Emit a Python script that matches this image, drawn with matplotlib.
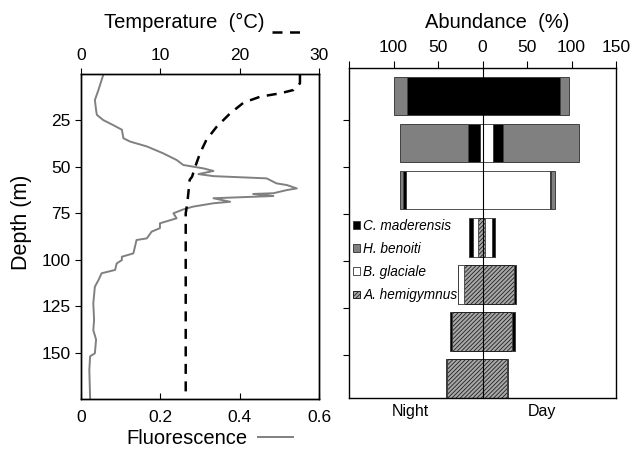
import numpy as np
import matplotlib
matplotlib.use("Agg")
import matplotlib.pyplot as plt
from matplotlib.patches import Patch
from matplotlib.lines import Line2D

plt.rcParams['font.family'] = ['Liberation Sans', 'DejaVu Sans']
plt.rcParams['hatch.linewidth'] = 0.6

# --- vertical profiles (depth in m) ---
fluo_depth = [0.5, 3.2, 8.6, 14, 19.4, 22, 24.8, 27.5, 30, 34.6, 36.4, 39, 42.7,
              46.3, 49, 49.9, 50.8, 52.2, 53.9, 55, 56.2, 58.9, 59.8, 61.6,
              62.5, 64.2, 64.6, 65.7, 66.9, 68.8, 69.6, 71.4, 72.9, 75, 77.7,
              80.4, 83, 84.9, 88.5, 89.4, 96.6, 98.4, 100.2, 102, 105.5, 107.3,
              111, 114.5, 123.5, 132.5, 137.9, 143, 150.4, 152, 159.4, 174.6]
fluo = [0.056, 0.052, 0.044, 0.035, 0.038, 0.040, 0.056, 0.081, 0.103, 0.107,
        0.124, 0.166, 0.207, 0.241, 0.258, 0.283, 0.308, 0.334, 0.296, 0.334,
        0.468, 0.493, 0.519, 0.544, 0.519, 0.485, 0.434, 0.485, 0.334, 0.376,
        0.334, 0.283, 0.258, 0.233, 0.241, 0.199, 0.199, 0.178, 0.166, 0.140,
        0.132, 0.103, 0.103, 0.090, 0.086, 0.052, 0.044, 0.035, 0.031, 0.033,
        0.031, 0.038, 0.035, 0.023, 0.021, 0.023]

temp_depth = [0.5, 5, 8.6, 10.4, 12.2, 15.4, 21.2, 28.4, 35.5, 42.7, 49.9,
              55.3, 57, 69.6, 75, 111, 174.6]
temp = [27.6, 27.6, 26.8, 25.1, 22.6, 20.5, 18.8, 17.1, 15.8, 15.0, 14.4,
        14.0, 13.7, 13.4, 13.2, 13.2, 13.2]

# --- abundance (%) per depth layer, night / day ---
layer_mid = [12.5, 37.5, 62.5, 87.5, 112.5, 137.5, 162.5]
species = ['C. maderensis', 'H. benoiti', 'B. glaciale', 'A. hemigymnus']
night = {
    'A. hemigymnus': [0, 0, 0, 5.6, 20.6, 34, 40],
    'B. glaciale':   [0, 3, 85.5, 5.6, 6.7, 0, 0],
    'C. maderensis': [85, 13, 3.5, 3.8, 0, 2.3, 0.8],
    'H. benoiti':    [15, 77, 4, 0, 0, 0, 0],
}
day = {
    'A. hemigymnus': [0, 0, 0, 2.7, 35.6, 33.7, 27],
    'B. glaciale':   [0, 12, 76, 8.5, 0, 0, 0],
    'C. maderensis': [87, 11, 1.5, 3.1, 1.5, 3, 1.5],
    'H. benoiti':    [10, 85, 4.5, 0, 0, 0, 0],
}
# stacking order from the centre line outwards
stack_order = ['A. hemigymnus', 'B. glaciale', 'C. maderensis', 'H. benoiti']
style = {
    'C. maderensis': dict(facecolor='black', edgecolor='#404040'),
    'H. benoiti':    dict(facecolor='#808080', edgecolor='#404040'),
    'B. glaciale':   dict(facecolor='white', edgecolor='#505050'),
    'A. hemigymnus': dict(facecolor='#a8a8a8', edgecolor='#202020', hatch='////////'),
}

W, H = 634, 451
fig = plt.figure(figsize=(W / 100, H / 100), dpi=100)

def frac(x0, y0, x1, y1):
    return [x0 / W, 1 - y1 / H, (x1 - x0) / W, (y1 - y0) / H]

# ---------------- left panel ----------------
ax = fig.add_axes(frac(81, 74, 319, 399))
ax.plot(fluo, fluo_depth, color='#808080', lw=1.4)
ax.set_xlim(0, 0.6)
ax.set_ylim(175, 0)
ax.set_xticks([0, 0.2, 0.4, 0.6])
ax.set_xticklabels(['0', '0.2', '0.4', '0.6'])
ax.set_yticks([25, 50, 75, 100, 125, 150])
ax.tick_params(axis='x', direction='in', length=4, labelsize=12.5, pad=8)
ax.tick_params(axis='y', direction='out', length=4, labelsize=12.5)

axt = ax.twiny()
axt.plot(temp, temp_depth, color='black', lw=1.8, ls=(0, (4, 3)))
axt.set_xlim(0, 30)
axt.set_xticks([0, 10, 20, 30])
axt.tick_params(axis='x', direction='out', length=4, labelsize=12.5, pad=4)

for a in (ax, axt):
    for s in a.spines.values():
        s.set_linewidth(1.0)

fig.text(184 / W, 1 - 22 / H, 'Temperature  (°C)', ha='center', va='center', fontsize=14.5)
fig.add_artist(Line2D([272 / W, 307 / W], [1 - 32 / H] * 2, color='black',
                      lw=1.8, ls=(0, (4, 3))))
fig.text(187 / W, 1 - 439 / H, 'Fluorescence', ha='center', va='center', fontsize=14.5)
fig.add_artist(Line2D([258 / W, 293 / W], [1 - 437 / H] * 2, color='#808080', lw=1.4))
fig.text(22 / W, 1 - 222 / H, 'Depth (m)', ha='center', va='center',
         rotation=90, fontsize=15.5)

# ---------------- right panel ----------------
bx = fig.add_axes(frac(349, 68, 616, 398))
bar_h = 20.5
cum_n = np.zeros(len(layer_mid))
cum_d = np.zeros(len(layer_mid))
for sp in stack_order:
    n = np.array(night[sp], dtype=float)
    d = np.array(day[sp], dtype=float)
    bx.barh(layer_mid, -n, left=-cum_n, height=bar_h, lw=0.7, **style[sp])
    bx.barh(layer_mid, d, left=cum_d, height=bar_h, lw=0.7, **style[sp])
    cum_n += n
    cum_d += d

bx.axvline(0, color='black', lw=0.8)
bx.set_xlim(-150, 150)
bx.set_ylim(173, -2.5)
bx.xaxis.tick_top()
bx.set_xticks([-150, -100, -50, 0, 50, 100, 150])
bx.set_xticklabels(['', '100', '50', '0', '50', '100', '150'])
bx.set_yticks([25, 50, 75, 100, 125, 150])
bx.set_yticklabels([])
bx.tick_params(axis='x', direction='out', length=5, labelsize=12.5, pad=4)
bx.tick_params(axis='y', direction='out', length=4)
for s in bx.spines.values():
    s.set_linewidth(1.0)

bx.text(-81, -0.04, 'Night', transform=bx.get_xaxis_transform(),
        ha='center', va='center', fontsize=11.5)
bx.text(67, -0.04, 'Day', transform=bx.get_xaxis_transform(),
        ha='center', va='center', fontsize=11.5)
fig.text(497 / W, 1 - 22 / H, 'Abundance  (%)', ha='center', va='center', fontsize=14.5)

handles = [Patch(label=sp, lw=0.7, **style[sp]) for sp in species]
leg = bx.legend(handles=handles, loc='upper left', bbox_to_anchor=(0.005, 0.552),
                frameon=False, borderaxespad=0, borderpad=0.2,
                handlelength=0.5, handleheight=0.5, handletextpad=0.25,
                labelspacing=0.68, prop={'style': 'italic', 'size': 9.8})

fig.savefig('out.png', dpi=100)
